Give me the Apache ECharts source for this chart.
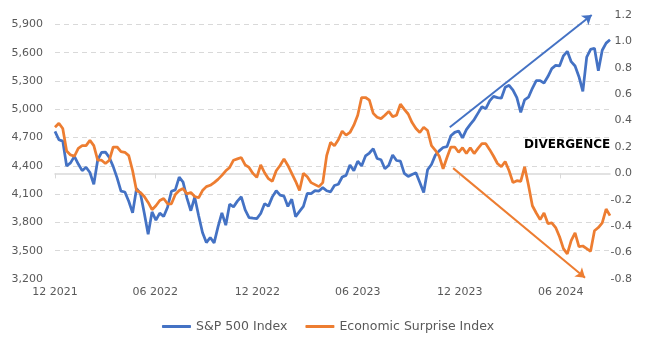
<!DOCTYPE html>
<html><head><meta charset="utf-8">
<script src="https://cdn.jsdelivr.net/npm/echarts@6/dist/echarts.min.js"></script>
<style>html,body{margin:0;padding:0;background:#fff}#c{width:656px;height:341px}</style>
</head><body><div id="c"></div>
<script>
// ---- data (weekly, Fridays from startDate) ----
const startDate = '2021-12-31';
const endDate = '2024-09-27';
const weekStepDays = 7;
const seriesNames = ['S&P 500 Index', 'Economic Surprise Index'];
const spx = [
  4766,4677,4662,4398,4432,4501,4419,4349,4385,4329,4204,4463,4543,4546,4488,4392,4272,4132,4123,4024,
  3901,4158,4109,3901,3675,3912,3825,3899,3863,3962,4130,4145,4280,4228,4058,3924,4067,3873,3693,3586,
  3640,3583,3753,3901,3771,3993,3965,4026,4072,3934,3852,3845,3840,3895,3999,3973,4071,4136,4090,4079,
  3970,4046,3862,3917,3971,4109,4105,4138,4133,4169,4136,4124,4192,4205,4282,4299,4410,4348,4450,4399,
  4505,4536,4582,4478,4464,4370,4406,4516,4457,4450,4320,4288,4309,4327,4224,4117,4358,4415,4514,4559,
  4595,4604,4719,4755,4770,4697,4784,4840,4891,4959,5027,5006,5089,5137,5124,5117,5234,5254,5204,5123,
  4967,5100,5128,5223,5303,5305,5278,5347,5432,5465,5460,5567,5615,5505,5459,5346,5190,5554,5635,5648,
  5408,5626,5702,5738
];
const esi = [
  0.35,0.38,0.34,0.17,0.14,0.13,0.19,0.21,0.21,0.25,0.21,0.10,0.10,0.075,0.10,0.20,0.20,0.165,0.16,0.135,
  0.02,-0.13,-0.145,-0.175,-0.22,-0.275,-0.245,-0.205,-0.19,-0.23,-0.23,-0.16,-0.13,-0.115,-0.155,-0.145,-0.175,-0.185,-0.13,-0.10,
  -0.09,-0.07,-0.045,-0.015,0.02,0.045,0.10,0.11,0.12,0.065,0.045,0.0,-0.03,0.065,0.005,-0.04,-0.06,0.02,0.06,0.11,
  0.06,0.0,-0.06,-0.13,0.0,-0.025,-0.07,-0.085,-0.10,-0.07,0.135,0.235,0.21,0.255,0.32,0.29,0.31,0.365,0.44,0.575,
  0.575,0.555,0.455,0.425,0.415,0.44,0.47,0.43,0.44,0.525,0.485,0.45,0.385,0.34,0.31,0.35,0.325,0.21,0.175,0.13,
  0.035,0.12,0.20,0.20,0.16,0.195,0.15,0.195,0.15,0.19,0.225,0.225,0.18,0.13,0.075,0.05,0.09,0.02,-0.07,-0.055,
  -0.06,0.05,-0.09,-0.245,-0.30,-0.35,-0.30,-0.38,-0.375,-0.41,-0.48,-0.57,-0.61,-0.51,-0.45,-0.555,-0.55,-0.57,-0.59,-0.435,
  -0.41,-0.375,-0.27,-0.32
];
const tickDates = ['2021-12-31','2022-06-30','2022-12-31','2023-06-30','2023-12-31','2024-06-30'];
const tickLabels = ['12 2021','06 2022','12 2022','06 2023','12 2023','06 2024'];
const annotationText = 'DIVERGENCE';
const upArrow = [['2023-12-13', 0.35], ['2024-08-25', 1.2]];
const downArrow = [['2023-12-19', 0.04], ['2024-08-13', -0.79]];

// ---- build (x = days since startDate) ----
const DAY = 86400000;
const toTime = s => { const p = s.split('-').map(Number); return Date.UTC(p[0], p[1] - 1, p[2]); };
const t0 = toTime(startDate);
const toDay = s => Math.round((toTime(s) - t0) / DAY);
const xDays = spx.map((_, k) => k * weekStepDays);
const tickDays = tickDates.map(toDay);
const FONT = 'DejaVu Sans';
const labelColor = '#595959';
const gridColor = '#D9D9D9';
const blue = '#4472C4', orange = '#ED7D31';

const chart = echarts.init(document.getElementById('c'), null, {renderer: 'canvas'});
chart.setOption({
  animation: false,
  grid: {left: 55, right: 46, top: 15, bottom: 62, containLabel: false},
  legend: {
    data: seriesNames, top: 315, left: 'center', icon: 'roundRect', itemWidth: 29, itemHeight: 3, itemGap: 18,
    textStyle: {color: labelColor, fontSize: 12.5, fontFamily: FONT}
  },
  xAxis: {
    type: 'value', min: 0, max: toDay(endDate),
    axisLine: {lineStyle: {color: gridColor, width: 1.5}},
    axisTick: {show: true, length: 5, lineStyle: {color: gridColor}, customValues: tickDays},
    axisLabel: {
      customValues: tickDays, color: labelColor, fontSize: 11, fontFamily: FONT, margin: 8, hideOverlap: false,
      formatter: v => {
        let best = 0;
        tickDays.forEach((t, i) => { if (Math.abs(t - v) < Math.abs(tickDays[best] - v)) best = i; });
        return tickLabels[best];
      }
    },
    splitLine: {show: false}
  },
  yAxis: [
    {
      type: 'value', min: 3200, max: 6000, interval: 300, position: 'left',
      axisLine: {show: false}, axisTick: {show: false},
      axisLabel: {color: labelColor, fontSize: 11, fontFamily: FONT, margin: 12, showMaxLabel: false,
        formatter: v => v > 5900 ? '' : v.toLocaleString('en-US')},
      splitLine: {show: true, showMinLine: false, showMaxLine: false, lineStyle: {color: gridColor, width: 1, type: [5, 4]}}
    },
    {
      type: 'value', min: -0.8, max: 1.2, interval: 0.2, position: 'right',
      axisLine: {show: false}, axisTick: {show: false}, splitLine: {show: false},
      axisLabel: {color: labelColor, fontSize: 11, fontFamily: FONT, margin: 22, align: 'right',
        formatter: v => Math.abs(v) < 1e-9 ? '0.0' : v.toFixed(1)}
    }
  ],
  series: [
    {
      name: seriesNames[0], type: 'line', yAxisIndex: 0, showSymbol: false, symbol: 'none',
      data: xDays.map((d, i) => [d, spx[i]]),
      lineStyle: {color: blue, width: 2.75}, itemStyle: {color: blue}, emphasis: {disabled: true}
    },
    {
      name: seriesNames[1], type: 'line', yAxisIndex: 1, showSymbol: false, symbol: 'none',
      data: xDays.map((d, i) => [d, esi[i]]),
      lineStyle: {color: orange, width: 2.75}, itemStyle: {color: orange}, emphasis: {disabled: true},
      markLine: {
        silent: true, animation: false, symbol: ['none', 'arrow'], symbolSize: 9,
        label: {show: false}, emphasis: {disabled: true},
        data: [
          [{coord: [toDay(upArrow[0][0]), upArrow[0][1]], lineStyle: {color: blue, width: 2, type: 'solid'}, itemStyle: {color: blue}},
           {coord: [toDay(upArrow[1][0]), upArrow[1][1]]}],
          [{coord: [toDay(downArrow[0][0]), downArrow[0][1]], lineStyle: {color: orange, width: 2, type: 'solid'}, itemStyle: {color: orange}},
           {coord: [toDay(downArrow[1][0]), downArrow[1][1]]}]
        ]
      }
    }
  ],
  graphic: [{
    type: 'text', left: 524, top: 139,
    style: {text: annotationText, font: 'bold 12px "DejaVu Sans"', fill: '#000'}
  }]
});
</script></body></html>
